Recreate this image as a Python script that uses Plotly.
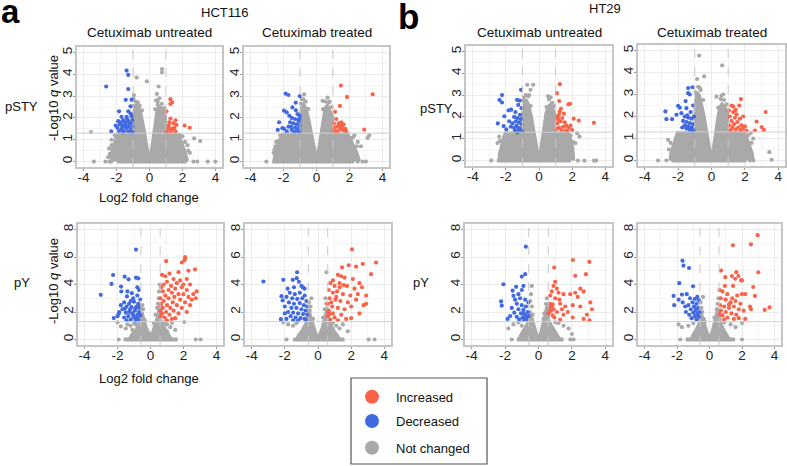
import plotly.graph_objects as go

# ---------------- text / categories ----------------
cell_lines = ["HCT116", "HT29"]
conditions = ["Cetuximab untreated", "Cetuximab treated"]
row_labels = ["pSTY", "pY"]
legend_labels = ["Increased", "Decreased", "Not changed"]
x_ticks = [-4, -2, 0, 2, 4]
y_ticks_pSTY = [0, 1, 2, 3, 4, 5]
y_ticks_pY = [0, 2, 4, 6, 8]
fc_cut_pSTY = 1.0
fc_cut_pY = 0.585
q_cut = 1.3

# ---------------- data ----------------
# Panel 1: HCT116, untreated, pSTY
p1_red = [(1.27,2.86),(1.37,2.71),(1.27,2.64),(1.03,2.30),(1.27,1.97),(1.58,1.89),(1.64,1.68),(1.17,1.65),(2.13,1.65),(2.44,1.55),(1.07,1.47),(1.37,1.47),(1.58,1.39),(1.27,1.35),(1.2,1.8),(1.45,1.75),(1.1,1.6),(1.5,1.55),(1.3,1.5),(1.05,1.35)]
p1_blue = [(-2.63,3.44),(-1.39,4.17),(-1.29,3.97),(-1.29,3.32),(-1.44,2.83),(-1.09,2.83),(-1.15,2.53),(-1.85,2.30),(-1.29,2.30),(-1.70,2.05),(-1.39,2.05),(-1.09,2.08),(-2.32,1.38),(-1.6,1.9),(-1.5,1.8),(-1.8,1.7),(-1.2,1.75),(-1.02,1.6),(-1.4,1.55),(-1.7,1.5),(-1.95,1.55),(-1.1,1.45),(-1.3,1.4),(-1.55,1.4),(-1.85,1.4),(-1.2,1.35),(-1.05,1.9),(-1.65,1.65),(-1.3,1.85),(-1.9,1.85),(-1.45,1.7),(-1.15,2.2),(-2.05,1.65),(-1.02,1.35),(-1.6,1.35),(-1.25,1.6),(-1.05,1.75),(-1.5,1.6),(-1.75,1.8),(-1.35,1.95)]
p1_gray = [(-0.78,3.85),(-0.16,3.67),(0.76,4.24),(0.76,4.09),(0.55,3.44),(0.45,3.1),(-3.55,1.35),(2.71,1.06),(3.08,0.94),(-0.98,2.9),(-0.95,3.05),(0.4,2.8),(0.5,2.6),(-2.45,0.6),(-2.3,1.0),(2.0,1.15),(2.3,0.75),(2.45,0.4),(-2.5,0.2),
           (-0.85,2.75),(-0.7,2.7),(-0.6,2.55),(-0.95,2.55),(0.5,2.75),(0.6,2.9),(0.75,2.65),(0.9,2.45),(0.35,2.4),(-0.45,2.35),(-2.4,0.35),(-2.3,0.75),(2.15,0.9),(2.35,0.5),(1.85,1.2),(-2.1,1.2)]
p1_cloud = [(-2.3,0),(-2.35,0.3),(-2.25,0.6),(-2.15,0.9),(-2.05,1.1),(-1.95,1.28),(-1.0,1.28),(-1.0,2.1),(-0.9,2.45),(-0.8,2.6),(-0.65,2.5),(-0.5,2.2),(-0.38,1.8),(-0.27,1.3),(-0.17,0.8),(-0.07,0.35),(0,0.15),(0.07,0.35),(0.15,0.8),(0.23,1.3),(0.32,1.8),(0.42,2.25),(0.55,2.55),(0.7,2.5),(0.85,2.3),(0.98,2.1),(0.98,1.28),(1.7,1.28),(1.9,1.0),(2.05,0.7),(2.2,0.4),(2.3,0.1),(2.3,0)]
p1_zero_band = (-1.97, 2.26)
p1_zero_x = [-3.38,-2.67,-2.42,-2.32,2.67,2.9,3.53,4.0]

# Panel 2: HCT116, treated, pSTY
p2_red = [(1.48,3.48),(1.85,2.96),(1.42,2.55),(1.12,2.28),(3.41,3.08),(2.90,1.46),(1.2,1.95),(1.35,1.75),(1.5,1.8),(1.65,1.7),(1.25,1.6),(1.1,1.55),(1.45,1.5),(1.6,1.45),(1.3,1.4),(1.75,1.5),(1.2,1.35),(1.05,1.75),(1.55,1.62),(1.4,1.65),(1.8,1.38),(1.02,1.45)]
p2_blue = [(-1.87,3.11),(-1.70,3.05),(-1.02,3.0),(-1.26,2.70),(-1.46,2.48),(-1.97,2.33),(-1.81,2.25),(-1.16,2.18),(-1.02,2.10),(-2.27,1.80),(-2.07,1.53),(-1.97,1.50),(-1.5,2.0),(-1.3,1.95),(-1.1,1.9),(-1.6,1.8),(-1.4,1.75),(-1.2,1.7),(-1.02,1.65),(-1.7,1.6),(-1.3,1.55),(-1.1,1.5),(-1.5,1.45),(-1.03,1.45),(-1.2,1.4),(-1.05,1.8),(-1.35,1.35),(-1.8,1.38),(-1.55,1.6),(-1.04,1.95),(-2.35,1.45),(-1.05,1.35),(-1.65,2.1),(-1.25,2.35)]
p2_gray = [(-0.75,3.08),(0.67,2.93),(0.37,2.78),(3.2,1.2),(3.1,1.08),(-2.5,0.7),(-2.3,0.95),(2.5,0.9),(2.7,0.7),(-0.9,2.85),(0.8,2.75),(2.3,1.2),(-2.6,0.4),
           (-0.8,2.85),(-0.65,2.75),(-0.95,2.65),(-0.5,2.4),(0.55,2.75),(0.75,2.7),(0.9,2.5),(0.4,2.4),(-2.55,0.55),(-2.45,0.9),(2.45,0.7),(2.2,1.1),(-2.2,1.2)]
p2_cloud = [(-2.6,0),(-2.55,0.3),(-2.4,0.7),(-2.25,1.0),(-2.05,1.28),(-1.0,1.28),(-1.0,2.2),(-0.9,2.5),(-0.78,2.65),(-0.62,2.45),(-0.47,2.0),(-0.33,1.45),(-0.2,0.9),(-0.08,0.4),(0,0.2),(0.08,0.4),(0.18,0.9),(0.28,1.5),(0.38,2.05),(0.5,2.45),(0.65,2.6),(0.8,2.4),(0.98,2.1),(0.98,1.28),(1.9,1.28),(2.1,1.0),(2.3,0.7),(2.5,0.35),(2.6,0.1),(2.6,0)]
p2_zero_band = (-2.68, 2.29)
p2_zero_x = [-3.04,2.5,2.8,3.0]

# Panel 3: HT29, untreated, pSTY
p3_red = [(1.26,3.5),(1.08,3.09),(1.87,2.6),(1.77,2.58),(1.22,2.73),(1.32,2.37),(2.09,1.92),(2.40,1.83),(3.31,1.73),(1.12,2.0),(1.2,2.1),(1.4,1.95),(1.3,1.8),(1.55,1.75),(1.1,1.7),(1.65,1.6),(1.45,1.55),(1.2,1.5),(1.8,1.5),(1.35,1.4),(1.6,1.38),(1.05,1.45),(1.9,1.6),(1.15,1.9),(1.5,2.15),(1.7,1.35),(1.25,2.25),(2.0,1.4)]
p3_blue = [(-2.23,3.0),(-2.38,2.78),(-2.23,2.66),(-1.08,3.24),(-1.32,2.78),(-1.16,2.75),(-1.83,2.30),(-1.68,2.33),(-1.42,2.22),(-2.09,2.03),(-2.48,1.70),(-2.13,1.58),(-1.97,1.43),(-1.5,2.0),(-1.3,1.95),(-1.1,1.9),(-1.4,1.8),(-1.2,1.75),(-1.6,1.7),(-1.05,1.65),(-1.35,1.6),(-1.25,1.5),(-1.5,1.5),(-1.1,1.45),(-1.7,1.55),(-1.2,1.4),(-1.45,1.38),(-1.02,1.35),(-1.8,1.8),(-1.15,2.1),(-1.05,2.4),(-1.25,2.55),(-1.3,1.3)]
p3_gray = [(-0.71,3.47),(-0.35,3.47),(-0.51,3.24),(-0.6,3.0),(0.7,2.9),(2.44,1.10),(2.3,1.25),(-2.5,0.8),(-2.4,1.1),(0.55,2.95),(-0.9,2.9),(2.2,0.8),
           (-0.8,3.0),(-0.65,2.95),(-0.95,2.75),(-0.5,2.5),(0.6,2.8),(0.8,2.65),(0.45,2.45),(0.9,2.5),(-2.35,0.9),(-2.3,0.4),(2.05,0.85),(1.9,1.15)]
p3_cloud = [(-2.4,0),(-2.4,0.3),(-2.3,0.6),(-2.2,0.95),(-2.05,1.28),(-1.0,1.28),(-1.0,2.2),(-0.9,2.6),(-0.75,2.8),(-0.6,2.55),(-0.45,2.05),(-0.33,1.5),(-0.2,1.0),(-0.08,0.45),(0,0.3),(0.08,0.45),(0.18,1.0),(0.28,1.6),(0.4,2.15),(0.55,2.5),(0.7,2.6),(0.85,2.35),(0.98,2.1),(0.98,1.28),(1.75,1.28),(1.95,0.95),(2.05,0.6),(2.1,0.2),(2.1,0)]
p3_zero_band = (-2.54, 1.93)
p3_zero_x = [-2.88,2.34,2.74,3.31,3.45]

# Panel 4: HT29, treated, pSTY
p4_red = [(1.76,2.79),(1.2,2.5),(1.66,2.5),(1.04,2.27),(3.24,2.2),(2.7,1.77),(3.0,1.52),(2.6,1.36),(3.14,1.39),(1.3,2.2),(1.5,2.1),(1.1,2.0),(1.4,1.95),(1.7,1.9),(1.2,1.8),(1.55,1.75),(1.35,1.65),(1.8,1.6),(1.05,1.6),(1.6,1.5),(1.25,1.5),(1.45,1.42),(1.9,1.45),(1.15,1.38),(1.75,1.38),(2.0,1.55),(1.9,2.0),(1.3,2.45),(1.45,2.3),(2.1,1.35)]
p4_blue = [(-1.4,3.29),(-1.14,3.33),(-1.4,3.06),(-1.3,3.0),(-2.0,2.48),(-1.9,2.4),(-2.76,2.23),(-2.1,2.08),(-2.70,1.88),(-2.36,1.88),(-1.8,2.15),(-1.5,2.38),(-1.6,2.0),(-1.4,1.95),(-1.2,1.9),(-1.05,2.0),(-1.7,1.8),(-1.5,1.75),(-1.3,1.7),(-1.1,1.65),(-1.6,1.6),(-1.4,1.55),(-1.2,1.5),(-1.5,1.45),(-1.3,1.4),(-1.05,1.4),(-1.75,1.5),(-1.25,2.2),(-1.1,2.5),(-1.55,2.7),(-1.15,1.35),(-1.45,2.05)]
p4_gray = [(-0.74,4.77),(0.64,4.32),(-0.44,3.82),(-0.86,3.70),(-0.7,3.3),(-0.9,3.0),(0.7,3.0),(0.3,2.9),(-2.6,0.94),(3.46,0.38),(3.6,0.03),(2.5,1.0),(2.35,1.25),(-2.55,0.5),(0.6,2.95),
           (-0.8,3.35),(-0.65,3.2),(-0.95,3.1),(-0.5,2.75),(0.55,2.8),(0.75,2.75),(0.9,2.55),(0.4,2.4),(-2.45,0.8),(-2.4,0.3),(2.4,0.8),(2.2,1.15)]
p4_cloud = [(-2.5,0),(-2.45,0.3),(-2.35,0.6),(-2.2,0.95),(-2.05,1.28),(-1.0,1.28),(-1.0,2.4),(-0.95,2.8),(-0.85,3.1),(-0.7,2.95),(-0.55,2.5),(-0.42,2.0),(-0.3,1.45),(-0.18,0.9),(-0.07,0.45),(0,0.3),(0.08,0.5),(0.18,1.0),(0.28,1.55),(0.38,2.05),(0.5,2.45),(0.62,2.6),(0.8,2.45),(0.98,2.2),(0.98,1.28),(1.95,1.28),(2.15,1.0),(2.3,0.7),(2.45,0.35),(2.5,0.1),(2.5,0)]
p4_zero_band = (-2.4, 2.1)
p4_zero_x = [-3.2,-2.7,2.3,2.5]

# Panel 5: HCT116, untreated, pY
p5_red = [(0.7,4.7),(0.9,4.6),(1.15,4.8),(1.7,4.9),(2.3,5.0),(1.9,5.6),(2.1,5.9),(0.95,5.7),(2.7,5.1),(1.4,4.4),(1.8,4.3),(2.2,4.4),(1.0,4.2),(1.6,4.1),(2.0,4.0),(2.4,4.0),(0.8,4.0),(1.25,3.9),(1.9,3.8),(0.65,3.8),(1.1,3.6),(1.5,3.7),(2.2,3.6),(2.8,3.5),(0.75,3.5),(1.3,3.4),(1.7,3.3),(2.0,3.3),(2.6,3.3),(0.9,3.2),(1.45,3.1),(2.3,3.1),(0.6,3.0),(1.1,3.0),(1.8,2.9),(2.5,2.9),(0.8,2.8),(1.35,2.7),(2.1,2.7),(0.65,2.6),(1.0,2.5),(1.6,2.5),(2.4,2.5),(0.75,2.3),(1.2,2.3),(1.9,2.3),(0.6,2.1),(0.95,2.0),(1.4,2.1),(0.7,1.9),(1.15,1.8),(1.7,1.9),(0.85,1.6),(1.3,1.5),(0.62,1.7),(1.0,1.4),(1.5,1.55),(2.2,2.0),(2.75,3.0),(0.6,2.4),(2.1,6.0),(2.05,5.75)]
p5_blue = [(-0.88,6.54),(-2.27,4.69),(-2.37,4.04),(-3.02,3.25),(-1.57,4.57),(-1.33,4.38),(-0.88,4.5),(-0.74,4.45),(-1.79,3.85),(-0.80,3.80),(-1.77,3.49),(-1.13,3.37),(-1.43,3.13),(-2.23,1.56),(-1.93,1.88),(-1.6,2.7),(-1.3,2.6),(-1.0,2.75),(-0.75,2.6),(-1.45,2.4),(-1.15,2.35),(-0.85,2.4),(-0.65,2.3),(-1.7,2.2),(-1.25,2.15),(-0.95,2.1),(-0.7,2.0),(-1.5,1.95),(-1.1,1.9),(-0.8,1.8),(-1.35,1.7),(-0.62,1.75),(-1.0,1.6),(-1.6,1.6),(-0.75,1.5),(-1.2,1.45),(-0.9,1.35),(-1.45,1.4),(-0.65,1.4),(-1.8,2.5),(-0.62,2.9),(-1.05,3.0),(-0.8,3.2),(-1.4,3.5),(-0.7,3.6),(-1.9,2.0),(-2.0,1.7),(-1.2,2.8),(-0.9,2.25),(-1.05,1.75),(-1.3,2.0),(-0.7,2.45),(-1.55,2.25),(-0.85,1.6)]
p5_gray = [(-1.8,0.95),(-1.5,0.8),(-1.4,1.1),(-1.2,1.0),(-1.0,1.2),(-0.9,1.1),(-0.5,2.5),(-0.45,2.2),(-0.55,1.9),(0.45,2.6),(0.5,3.0),(0.52,3.5),(0.55,4.0),(0.4,2.3),(0.3,1.8),(1.0,1.1),(1.2,0.9),(1.5,0.7),(1.3,1.2),(2.05,1.27),(-2.0,1.25),(-0.35,1.4),(0.2,1.2),(0.5,1.5),(-0.6,1.5),(0.85,1.25),(-1.1,0.7),(1.0,0.6)]
p5_cloud = [(-1.3,0),(-1.2,0.3),(-0.9,0.7),(-0.7,1.1),(-0.55,1.5),(-0.5,2.0),(-0.4,1.6),(-0.25,0.9),(-0.1,0.5),(0.0,0.35),(0.1,0.5),(0.25,1.0),(0.4,1.6),(0.5,2.2),(0.56,1.6),(0.75,1.1),(0.95,0.7),(1.2,0.3),(1.3,0)]
p5_zero_band = (-1.63, 1.65)
p5_zero_x = [-1.93,2.75,3.04]

# Panel 6: HCT116, treated, pY
p6_red = [(2.05,6.55),(1.85,5.4),(1.45,5.25),(2.7,5.5),(3.5,5.6),(3.2,4.75),(2.3,5.3),(0.9,4.3),(1.2,4.7),(1.4,4.6),(1.6,4.5),(2.1,4.4),(2.5,4.1),(0.75,4.1),(1.0,3.9),(1.3,3.8),(1.75,3.9),(2.2,3.7),(2.65,3.8),(0.65,3.6),(0.9,3.4),(1.15,3.5),(1.5,3.3),(1.95,3.2),(2.4,3.3),(2.9,3.2),(0.7,3.0),(1.05,2.9),(1.35,2.8),(1.8,2.7),(2.3,2.9),(2.75,2.5),(0.6,2.6),(0.85,2.4),(1.2,2.3),(1.6,2.2),(2.0,2.4),(2.9,2.6),(0.65,2.1),(0.9,1.9),(1.4,1.8),(2.5,1.9),(0.6,1.7),(1.0,1.6),(1.7,1.5),(0.75,1.45),(1.2,1.4),(2.0,1.55),(0.62,2.0),(0.7,1.85),(1.3,4.1),(1.55,3.95),(1.1,3.1),(0.8,2.7)]
p6_blue = [(-3.29,4.22),(-2.09,4.34),(-1.26,4.89),(-1.28,4.46),(-1.52,4.34),(-1.83,3.70),(-2.2,3.15),(-2.13,2.84),(-2.24,1.48),(-0.91,3.79),(-0.81,3.70),(-1.7,3.4),(-1.4,3.3),(-1.1,3.4),(-0.8,3.2),(-1.9,3.1),(-1.55,3.0),(-1.25,2.95),(-0.95,3.0),(-0.7,2.8),(-1.75,2.7),(-1.45,2.6),(-1.1,2.65),(-0.85,2.5),(-0.65,2.4),(-2.0,2.4),(-1.6,2.3),(-1.3,2.3),(-1.0,2.2),(-0.75,2.1),(-1.8,2.0),(-1.5,1.95),(-1.2,1.9),(-0.9,1.85),(-0.65,1.8),(-1.65,1.7),(-1.35,1.6),(-1.05,1.55),(-0.8,1.5),(-1.5,1.4),(-1.2,1.38),(-0.7,1.4),(-1.9,1.5),(-2.0,1.9),(-1.15,4.2),(-1.45,3.8),(-1.0,3.9)]
p6_gray = [(0.51,4.89),(0.45,3.0),(0.5,2.6),(0.4,2.2),(-0.45,2.4),(-0.5,2.1),(-0.55,2.7),(-1.3,1.2),(-1.5,1.0),(-1.8,1.1),(1.1,1.0),(1.3,0.8),(1.5,1.1),(0.9,1.2),(-0.3,1.5),(0.3,1.6),(-2.1,1.25),(1.8,0.6),(-0.4,3.0),(-0.6,1.6)]
p6_cloud = [(-1.3,0),(-1.2,0.3),(-0.95,0.7),(-0.75,1.1),(-0.6,1.5),(-0.55,2.2),(-0.42,1.7),(-0.25,0.9),(-0.1,0.4),(0.0,0.25),(0.1,0.4),(0.25,0.9),(0.4,1.6),(0.55,2.4),(0.6,1.5),(0.8,1.0),(1.0,0.6),(1.2,0.3),(1.3,0)]
p6_zero_band = (-1.5, 1.6)
p6_zero_x = [-1.9,3.05,3.41]

# Panel 7: HT29, untreated, pY
p7_red = [(2.06,5.78),(3.04,5.64),(2.84,4.75),(0.94,5.23),(2.2,4.63),(1.0,4.2),(0.9,3.9),(1.1,3.7),(0.8,3.5),(1.2,3.4),(0.7,3.2),(1.0,3.0),(1.5,3.3),(1.9,3.3),(2.2,3.4),(2.5,3.7),(2.7,3.5),(2.35,3.1),(3.1,2.7),(3.2,2.2),(2.9,1.8),(2.5,2.4),(2.05,2.5),(1.6,2.4),(1.3,2.6),(0.7,2.6),(0.8,2.4),(0.9,2.2),(0.75,2.1),(0.65,2.3),(1.1,2.0),(1.5,1.8),(0.95,1.6),(1.3,1.45),(2.05,1.6),(2.7,1.5),(3.05,1.4),(1.75,2.0),(0.6,1.9),(1.25,2.9),(0.85,1.75),(1.4,2.2),(0.7,2.45),(0.85,2.55),(0.65,2.0)]
p7_blue = [(-0.76,6.75),(-1.0,4.58),(-0.8,4.75),(-2.1,4.02),(-1.34,3.83),(-2.24,2.77),(-2.2,2.46),(-1.5,3.18),(-1.2,3.3),(-1.4,2.9),(-1.1,3.0),(-0.8,2.9),(-0.6,2.7),(-1.3,2.6),(-1.0,2.5),(-0.75,2.4),(-1.6,2.3),(-1.2,2.2),(-0.9,2.15),(-0.65,2.0),(-1.45,1.95),(-1.05,1.9),(-0.8,1.8),(-0.6,1.7),(-1.3,1.65),(-0.95,1.6),(-0.7,1.5),(-1.15,1.45),(-0.85,1.4),(-1.7,1.7),(-1.85,1.5),(-1.0,3.6),(-0.9,3.9),(-1.55,3.55),(-0.9,1.9),(-0.75,1.6)]
p7_gray = [(-0.4,3.9),(-0.45,3.3),(-0.5,2.8),(-0.4,2.4),(0.5,3.0),(0.45,2.6),(0.5,2.2),(0.35,1.9),(-0.35,1.8),(-1.5,1.1),(-1.8,0.8),(-1.2,1.25),(1.8,0.8),(1.5,1.0),(1.2,1.2),(2.0,0.4),(-0.6,1.6),(0.3,1.5),(1.0,1.25),(-1.0,1.0)]
p7_cloud = [(-1.2,0),(-1.1,0.3),(-0.9,0.7),(-0.7,1.1),(-0.55,1.6),(-0.5,2.1),(-0.38,1.6),(-0.22,0.9),(-0.1,0.4),(0.0,0.25),(0.1,0.4),(0.22,1.0),(0.35,1.7),(0.5,2.5),(0.58,2.6),(0.62,1.4),(0.8,1.0),(1.0,0.6),(1.2,0.3),(1.3,0)]
p7_zero_band = (-1.3, 1.5)
p7_zero_x = [-1.6,1.9,2.1]

# Panel 8: HT29, treated, pY
p8_red = [(2.96,7.59),(2.55,6.92),(1.44,6.85),(0.71,5.01),(1.78,4.61),(3.0,4.89),(1.58,4.42),(0.97,4.53),(1.38,4.61),(1.94,4.3),(2.69,3.82),(2.79,3.17),(3.4,2.15),(3.7,2.34),(2.49,2.39),(0.8,3.5),(1.1,3.3),(1.4,3.0),(1.7,3.2),(2.0,3.3),(2.2,3.3),(0.7,3.0),(1.0,2.9),(1.3,2.7),(1.6,2.8),(1.9,2.6),(0.65,2.5),(0.9,2.4),(1.2,2.3),(1.5,2.4),(1.8,2.2),(2.1,2.1),(0.7,2.1),(1.0,2.0),(1.35,1.9),(1.65,1.8),(0.8,1.75),(1.1,1.6),(1.5,1.5),(2.2,1.5),(0.9,1.45),(0.62,1.85),(2.55,2.2),(0.95,3.9),(1.45,3.9),(1.65,4.9),(2.0,4.3),(0.62,3.6),(1.2,2.55),(1.8,1.55)]
p8_blue = [(-1.66,5.73),(-1.6,5.37),(-1.26,5.2),(-1.86,4.1),(-2.21,3.17),(-1.7,3.27),(-2.17,2.5),(-1.01,3.87),(-1.2,3.0),(-0.9,2.95),(-0.65,2.85),(-1.05,2.7),(-0.8,2.6),(-1.3,2.5),(-0.95,2.4),(-0.7,2.3),(-1.5,2.4),(-1.15,2.2),(-0.85,2.1),(-0.62,2.0),(-1.0,1.95),(-0.75,1.85),(-1.25,1.8),(-0.9,1.7),(-0.65,1.6),(-1.1,1.55),(-0.8,1.45),(-1.45,2.0),(-1.65,2.7),(-1.9,2.9),(-1.4,3.3),(-0.75,3.1),(-0.7,1.7),(-0.85,2.25)]
p8_gray = [(-0.35,1.5),(-1.9,1.1),(-1.7,0.9),(0.55,3.0),(0.5,2.6),(0.45,2.2),(-0.5,2.3),(-0.45,2.0),(-0.55,2.7),(1.3,1.1),(1.6,0.9),(2.0,1.2),(-1.3,1.0),(-1.0,1.2),(0.3,1.6),(-0.3,1.3),(0.9,1.25),(-0.4,3.1)]
p8_cloud = [(-1.15,0),(-1.05,0.3),(-0.85,0.7),(-0.68,1.1),(-0.55,1.6),(-0.5,2.0),(-0.38,1.5),(-0.22,0.8),(-0.1,0.4),(0.0,0.25),(0.1,0.4),(0.22,0.9),(0.35,1.6),(0.5,2.3),(0.58,2.0),(0.7,1.2),(0.85,0.8),(1.05,0.4),(1.2,0.1),(1.25,0)]
p8_zero_band = (-1.46, 1.58)
p8_zero_x = [-1.8, 2.0]

# ---------------- styling ----------------
RED = "#F9634A"
BLUE = "#4169E1"
GRAY = "#A9A9A9"
FONT = "Arial, Liberation Sans, sans-serif"
W, H = 787, 466

# panel frames in pixels: (x0, x1, y0, y1)
boxes = [
    (77, 222, 47, 167), (244, 389, 47, 167), (466, 612, 46, 166), (638, 785, 45, 166),
    (78, 223, 224, 345), (245, 391, 224, 345), (465, 612, 224, 345), (638, 781, 224, 345),
]

panels = [
    (p1_red, p1_blue, p1_gray, p1_cloud, p1_zero_band, p1_zero_x),
    (p2_red, p2_blue, p2_gray, p2_cloud, p2_zero_band, p2_zero_x),
    (p3_red, p3_blue, p3_gray, p3_cloud, p3_zero_band, p3_zero_x),
    (p4_red, p4_blue, p4_gray, p4_cloud, p4_zero_band, p4_zero_x),
    (p5_red, p5_blue, p5_gray, p5_cloud, p5_zero_band, p5_zero_x),
    (p6_red, p6_blue, p6_gray, p6_cloud, p6_zero_band, p6_zero_x),
    (p7_red, p7_blue, p7_gray, p7_cloud, p7_zero_band, p7_zero_x),
    (p8_red, p8_blue, p8_gray, p8_cloud, p8_zero_band, p8_zero_x),
]

def px(x):
    return x / W

def py(y):
    return 1 - y / H

fig = go.Figure()
layout = dict(width=W, height=H, margin=dict(l=0, r=0, t=0, b=0),
              paper_bgcolor="white", plot_bgcolor="white", showlegend=False,
              font=dict(family=FONT, size=13, color="#111"))
shapes = []
annotations = []

MS = 4.2
for i, (red, blue, gray, cloud, band, zx) in enumerate(panels):
    k = i + 1
    xa = "x" if k == 1 else f"x{k}"
    ya = "y" if k == 1 else f"y{k}"
    top = i < 4
    x0, x1, y0, y1 = boxes[i]
    fc = fc_cut_pSTY if top else fc_cut_pY
    yr = [-0.25, 5.25] if top else [-0.4, 8.4]

    fig.add_trace(go.Scatter(x=[p[0] for p in cloud], y=[p[1] for p in cloud], xaxis=xa, yaxis=ya,
                             mode="lines", fill="toself", fillcolor=GRAY,
                             line=dict(color=GRAY, width=2.5), hoverinfo="skip"))
    fig.add_trace(go.Scatter(x=[band[0], band[1]], y=[0, 0], xaxis=xa, yaxis=ya, mode="lines",
                             line=dict(color=GRAY, width=4), hoverinfo="skip"))
    fig.add_trace(go.Scatter(x=zx, y=[0] * len(zx), xaxis=xa, yaxis=ya, mode="markers",
                             marker=dict(color=GRAY, size=MS)))
    fig.add_trace(go.Scatter(x=[p[0] for p in gray], y=[p[1] for p in gray], xaxis=xa, yaxis=ya,
                             mode="markers", marker=dict(color=GRAY, size=MS)))
    fig.add_trace(go.Scatter(x=[p[0] for p in blue], y=[p[1] for p in blue], xaxis=xa, yaxis=ya,
                             mode="markers", marker=dict(color=BLUE, size=MS)))
    fig.add_trace(go.Scatter(x=[p[0] for p in red], y=[p[1] for p in red], xaxis=xa, yaxis=ya,
                             mode="markers", marker=dict(color=RED, size=MS)))

    xkey = "xaxis" if k == 1 else f"xaxis{k}"
    ykey = "yaxis" if k == 1 else f"yaxis{k}"
    layout[xkey] = dict(domain=[px(x0), px(x1)], anchor=ya, range=[-4.4, 4.4],
                        tickvals=x_ticks, ticktext=[str(v) for v in x_ticks],
                        showgrid=True, gridcolor="#EBEBEB", gridwidth=1,
                        minor=dict(showgrid=True, dtick=1, tick0=-5, gridcolor="#F4F4F4", gridwidth=0.7),
                        showline=True, mirror=True, linecolor="#C6C6C6", linewidth=1.5,
                        ticks="outside", ticklen=2, tickcolor="#999", zeroline=False,
                        ticklabelstandoff=-5,
                        tickfont=dict(size=13.5, color="#222", family=FONT))
    yt = y_ticks_pSTY if top else y_ticks_pY
    layout[ykey] = dict(domain=[py(y1), py(y0)], anchor=xa, range=yr,
                        tickvals=yt, ticktext=[str(v) for v in yt], tickangle=-90,
                        showgrid=True, gridcolor="#EBEBEB", gridwidth=1,
                        minor=dict(showgrid=True, dtick=(0.5 if top else 1), gridcolor="#F4F4F4", gridwidth=0.7),
                        showline=True, mirror=True, linecolor="#C6C6C6", linewidth=1.5,
                        ticks="outside", ticklen=2, tickcolor="#999", zeroline=False,
                        ticklabelstandoff=-4,
                        tickfont=dict(size=13.5, color="#222", family=FONT))
    for xv in (-fc, fc):
        shapes.append(dict(type="line", xref=xa, yref=ya, x0=xv, x1=xv, y0=yr[0], y1=yr[1],
                           line=dict(color="#C8C8C8", width=1, dash="dash"), layer="above"))
    shapes.append(dict(type="line", xref=xa, yref=ya, x0=-4.4, x1=4.4, y0=q_cut, y1=q_cut,
                       line=dict(color="#CFCFCF", width=1), layer="above"))
    if top:
        annotations.append(dict(text=conditions[i % 2], x=px((x0 + x1) / 2), y=py(32.6),
                                xref="paper", yref="paper", showarrow=False,
                                xanchor="center", yanchor="middle", font=dict(size=13.5, color="#111")))

def text(t, x, y, size=13, bold=False, angle=0, anchor="center"):
    annotations.append(dict(text=(f"<b>{t}</b>" if bold else t), x=px(x), y=py(y), xref="paper", yref="paper",
                            showarrow=False, xanchor=anchor, yanchor="middle", textangle=angle,
                            font=dict(size=size, color="#000" if bold else "#111", family=FONT)))

text("a", 10, 11, size=33, bold=True)
text("b", 408, 16, size=35, bold=True)
text(cell_lines[0], 225, 12.2)
text(cell_lines[1], 604.5, 8.8)
text(row_labels[0], 21, 106.5)
text(row_labels[0], 436, 109)
text(row_labels[1], 21.7, 282.5)
text(row_labels[1], 421, 282.5)
text("-Log10 <i>q</i> value", 53, 98, size=13, angle=-90)
text("-Log10 <i>q</i> value", 53, 281, size=13, angle=-90)
text("Log2 fold change", 149, 197, size=13)
text("Log2 fold change", 149, 378.5, size=13)

shapes.append(dict(type="rect", xref="paper", yref="paper", x0=px(351), x1=px(487), y0=py(464), y1=py(378),
                   line=dict(color="#555", width=1.2), fillcolor="white"))
for lab, col, cy in zip(legend_labels, [RED, BLUE, GRAY], [396.7, 421, 447.7]):
    r = 7
    shapes.append(dict(type="circle", xref="paper", yref="paper", x0=px(372 - r), x1=px(372 + r),
                       y0=py(cy + r), y1=py(cy - r), fillcolor=col, line=dict(width=0)))
    text(lab, 394, cy + 0.5, size=13, anchor="left")

layout["shapes"] = shapes
layout["annotations"] = annotations
fig.update_layout(**layout)
fig.write_html("out.html", config={"displayModeBar": False},
               post_script="document.body.style.margin='0px';document.body.style.overflow='hidden';")
